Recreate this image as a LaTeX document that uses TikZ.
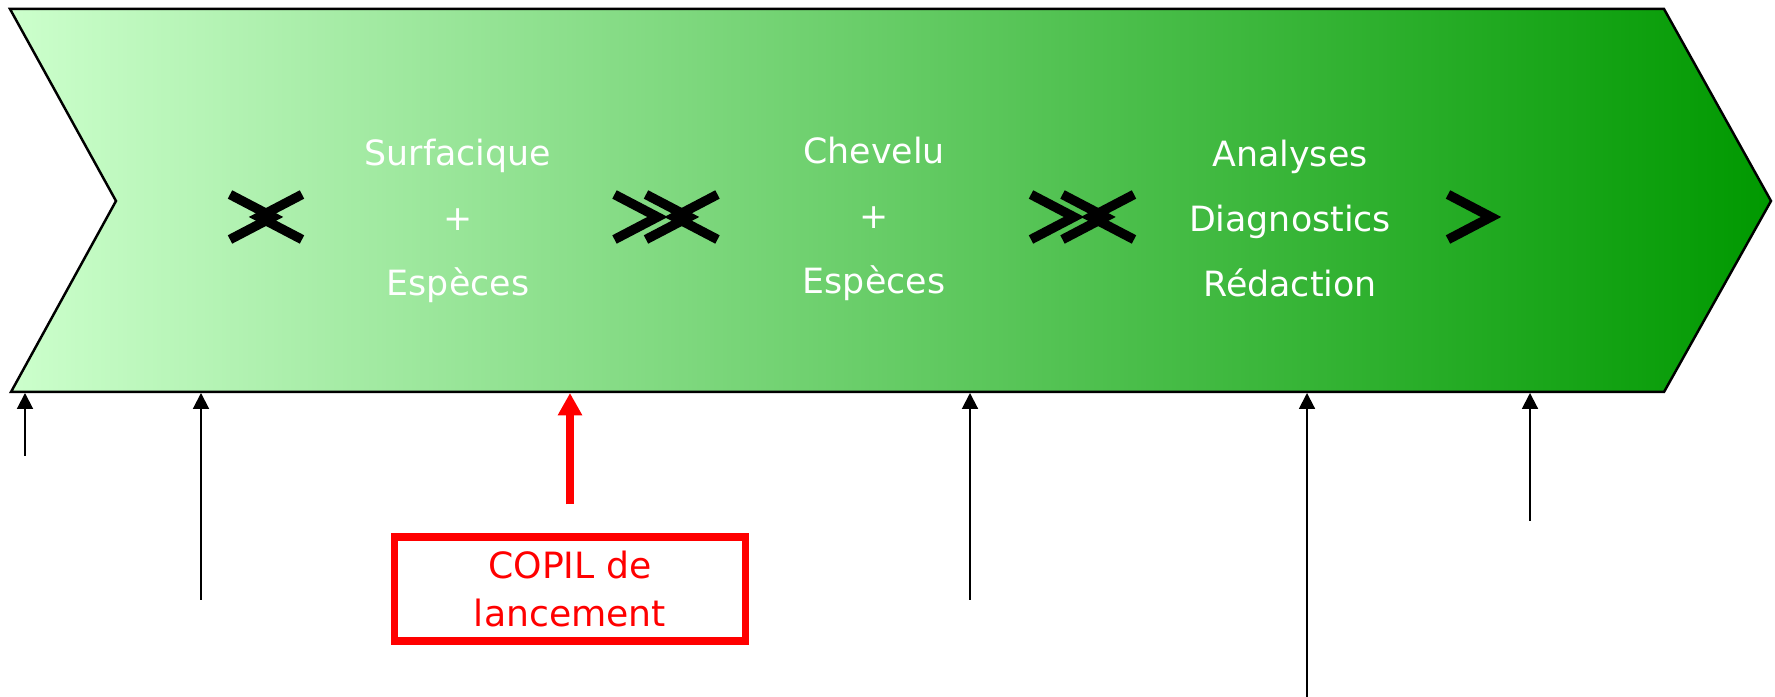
\documentclass[tikz,border=0pt]{standalone}
\usepackage{fontspec}
\setmainfont{DejaVu Sans}
\newcommand{\drawBreakR}[1]{\draw[breakmark] (#1)+(0, 0.225) -- +(0.43, 0) -- +(0, -0.225);}
\newcommand{\drawBreakL}[1]{\draw[breakmark] (#1)+(0, 0.225) -- +(-0.43, 0) -- +(0, -0.225);}
\usepackage{tikz}
\usetikzlibrary{arrows.meta}
\definecolor{phaseLight}{HTML}{CCFFCC}
\definecolor{phaseDark}{HTML}{009900}
\tikzset{
    phase/.style={draw=black, line width=0.7pt, left color=phaseLight, right color=phaseDark},
    milestone/.style={-{Triangle[length=4.5pt,width=4.5pt]}, black, line width=0.55pt},
    launch/.style={-{Triangle[length=6.4pt,width=6.6pt]}, red, line width=2.1pt},
    phasetext/.style={white, align=center, font=\fontsize{9.9}{18.5}\selectfont},
    copilbox/.style={draw=red, line width=2.1pt, text=red, align=center,
        minimum width=3.51cm, minimum height=1.04cm, inner sep=0pt,
        font=\fontsize{10.3}{13.6}\selectfont},
    breakmark/.style={black, line width=2.7pt}}

\begin{document}
\begin{tikzpicture}
\useasboundingbox (0,0) rectangle (17.75,6.97);

% big phase arrow
\shadedraw[phase] (0.10,6.88) -- (16.64,6.88) -- (17.71,4.96) -- (16.64,3.05)
    -- (0.11,3.05) -- (1.16,4.96) -- cycle;

\node[phasetext] (surf) at (4.58,4.76) {Surfacique\\+\\Espèces};
\node[phasetext] (chev) at (8.74,4.78) {Chevelu\\+\\Espèces};
\node[phasetext] (anal) at (12.90,4.78) {Analyses\\Diagnostics\\Rédaction};

\node[copilbox] (copil) at (5.70,1.08) {COPIL de\\lancement};

% milestones on the lower edge
\coordinate (m1) at (0.25,3.04);
\coordinate (m2) at (2.01,3.04);
\coordinate (mred) at (5.70,3.04);
\coordinate (m3) at (9.70,3.04);
\coordinate (m4) at (13.07,3.04);
\coordinate (m5) at (15.30,3.04);
\coordinate (s1) at (0.25,2.41);
\coordinate (s2) at (2.01,0.97);
\coordinate (s3) at (9.70,0.97);
\coordinate (s4) at (13.07,0.00);
\coordinate (s5) at (15.30,1.76);

\path[milestone]
    (s1) edge (m1)
    (s2) edge (m2)
    (s3) edge (m3)
    (s4) edge (m4)
    (s5) edge (m5);
\path[launch]
    (copil) edge [shorten <=0.29cm] (mred);

% breaks
\drawBreakR{2.30,4.80}
\drawBreakL{3.02,4.80}
\drawBreakR{6.145,4.80}
\drawBreakR{6.46,4.80}
\drawBreakL{7.175,4.80}
\drawBreakR{10.31,4.80}
\drawBreakR{10.625,4.80}
\drawBreakL{11.34,4.80}
\drawBreakR{14.48,4.80}
\end{tikzpicture}
\end{document}
